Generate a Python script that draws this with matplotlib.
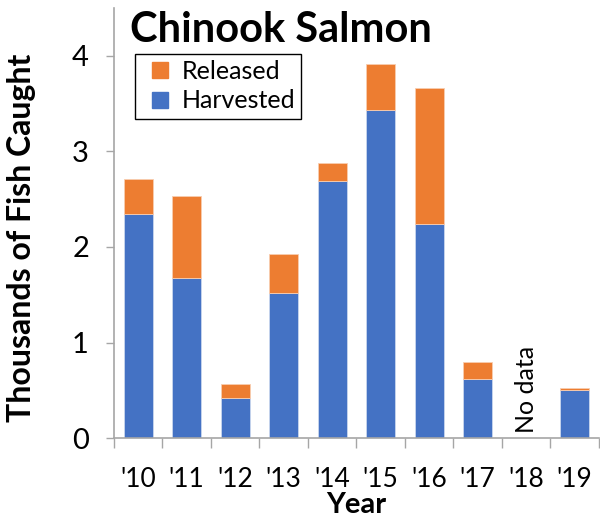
import numpy as np
import matplotlib
matplotlib.use("Agg")
import matplotlib.pyplot as plt
from matplotlib.lines import Line2D

plt.rcParams['font.family'] = ['Lato', 'DejaVu Sans']

# Data (thousands of fish)
years = ["'10", "'11", "'12", "'13", "'14", "'15", "'16", "'17", "'18", "'19"]
harvested = [2.34, 1.68, 0.42, 1.52, 2.69, 3.43, 2.24, 0.62, 0.0, 0.505]
released = [0.37, 0.85, 0.15, 0.41, 0.19, 0.48, 1.42, 0.18, 0.0, 0.025]
no_data_year = "'18"

blue = "#4472C4"
orange = "#ED7D31"
axis_gray = "#A6A6A6"

fig = plt.figure(figsize=(6.0, 5.23), dpi=100)
ax = fig.add_axes([0.19, 0.162, 0.808, 0.823])

x = np.arange(len(years))
ax.bar(x, harvested, width=0.6, color=blue, edgecolor="#C9D6EE", linewidth=0.6,
       label="Harvested")
ax.bar(x, released, width=0.6, bottom=harvested, color=orange, edgecolor="#F8CDB0",
       linewidth=0.6, label="Released")

# "No data" marker for missing year
ax.text(years.index(no_data_year), 0.05, "No data", rotation=90, ha="center",
        va="bottom", fontsize=18)

ax.set_xlim(-0.5, len(years) - 0.5)
ax.set_ylim(0, 4.5)

ax.set_yticks([0, 1, 2, 3, 4])
ax.set_xticks(x)
ax.set_xticklabels(years)
ax.set_xticks(np.arange(-0.5, len(years)), minor=True)
ax.tick_params(axis="x", which="major", length=0, pad=21, labelsize=19)
ax.tick_params(axis="x", which="minor", length=7, color=axis_gray, width=1)
ax.tick_params(axis="y", which="major", length=6, color=axis_gray, width=1,
               pad=12, labelsize=21)

for side in ["top", "right"]:
    ax.spines[side].set_visible(False)
for side in ["left", "bottom"]:
    ax.spines[side].set_color(axis_gray)
    ax.spines[side].set_linewidth(1.2)

ax.set_xlabel("Year", fontsize=21, fontweight="bold", labelpad=0)
ax.set_ylabel("Thousands of Fish Caught", fontsize=23, fontweight="bold")
ax.yaxis.set_label_coords(-0.16, 0.465)

legend_handles = [
    Line2D([], [], linestyle="none", marker="s", markersize=11,
           markerfacecolor=orange, markeredgecolor=orange),
    Line2D([], [], linestyle="none", marker="s", markersize=11,
           markerfacecolor=blue, markeredgecolor=blue),
]
leg = ax.legend(legend_handles, ["Released", "Harvested"], loc="upper left",
                bbox_to_anchor=(0.044, 0.893), borderaxespad=0, fontsize=18,
                fancybox=False, edgecolor="black", framealpha=1,
                handlelength=1.5, handletextpad=0.1,
                labelspacing=0.25, borderpad=0.25)
leg.get_frame().set_linewidth(1.0)

fig.text(0.468, 0.943, "Chinook Salmon", ha="center", va="center",
         fontsize=30, fontweight="bold")

fig.savefig("out.png", dpi=100)
